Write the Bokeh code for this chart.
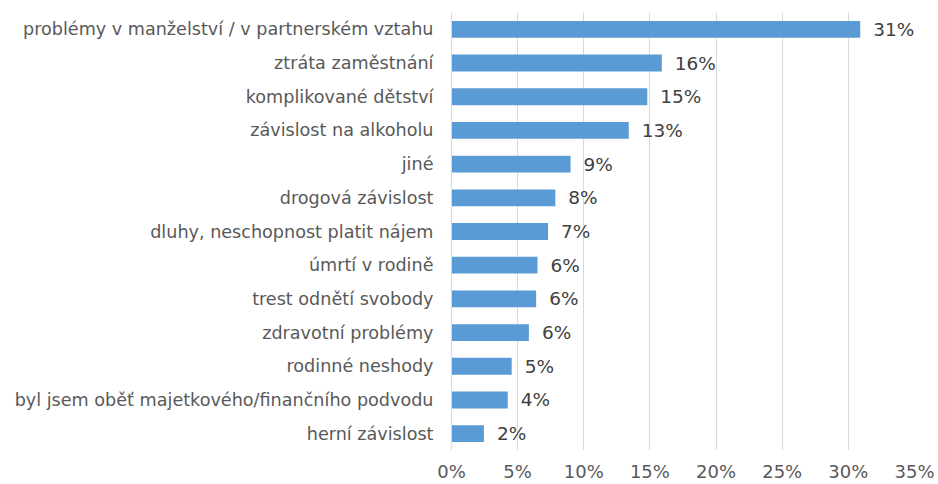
from bokeh.plotting import figure
from bokeh.models import ColumnDataSource, FactorRange, Range1d, FixedTicker, PrintfTickFormatter
from bokeh.core.properties import value
from bokeh.embed import file_html
from bokeh.resources import INLINE

categories = [
    "problémy v manželství / v partnerském vztahu",
    "ztráta zaměstnání",
    "komplikované dětství",
    "závislost na alkoholu",
    "jiné",
    "drogová závislost",
    "dluhy, neschopnost platit nájem",
    "úmrtí v rodině",
    "trest odnětí svobody",
    "zdravotní problémy",
    "rodinné neshody",
    "byl jsem oběť majetkového/finančního podvodu",
    "herní závislost",
]
values = [30.9, 15.9, 14.8, 13.4, 9.0, 7.85, 7.3, 6.5, 6.4, 5.85, 4.55, 4.25, 2.45]
shown = [31, 16, 15, 13, 9, 8, 7, 6, 6, 6, 5, 4, 2]
x_ticks = [0, 5, 10, 15, 20, 25, 30, 35]

FONT = "DejaVu Sans"

src = ColumnDataSource(dict(cat=categories, val=values, lab=[f"{s}%" for s in shown]))

p = figure(
    width=938, height=484,
    y_range=FactorRange(factors=categories[::-1]),
    x_range=Range1d(0, 35),
    output_backend="svg", toolbar_location=None,
    min_border_left=451, min_border_right=24, min_border_top=12, min_border_bottom=32,
)
p.hbar(y="cat", right="val", left=0, height=0.5, source=src,
       fill_color="#5B9BD5", line_color=None)
p.text(x="val", y="cat", text="lab", source=src, x_offset=13,
       text_align="left", text_baseline="middle",
       text_font=value(FONT), text_font_size="18.5px", text_color="#404040")

p.outline_line_color = None
p.ygrid.grid_line_color = None
p.xgrid.ticker = FixedTicker(ticks=x_ticks)
p.xgrid.grid_line_color = "#d9d9d9"

p.yaxis.major_tick_line_color = None
p.yaxis.minor_tick_line_color = None
p.yaxis.axis_line_color = "#d9d9d9"
p.yaxis.major_label_text_font = FONT
p.yaxis.major_label_text_font_size = "17.6px"
p.yaxis.major_label_text_color = "#595959"
p.yaxis.major_label_standoff = 12

p.xaxis.ticker = FixedTicker(ticks=x_ticks)
p.xaxis.formatter = PrintfTickFormatter(format="%d%%")
p.xaxis.axis_line_color = None
p.xaxis.major_tick_line_color = None
p.xaxis.minor_tick_line_color = None
p.xaxis.major_label_text_font = FONT
p.xaxis.major_label_text_font_size = "18px"
p.xaxis.major_label_text_color = "#595959"
p.xaxis.major_label_standoff = 4

open("out.html", "w").write(file_html(p, INLINE))
